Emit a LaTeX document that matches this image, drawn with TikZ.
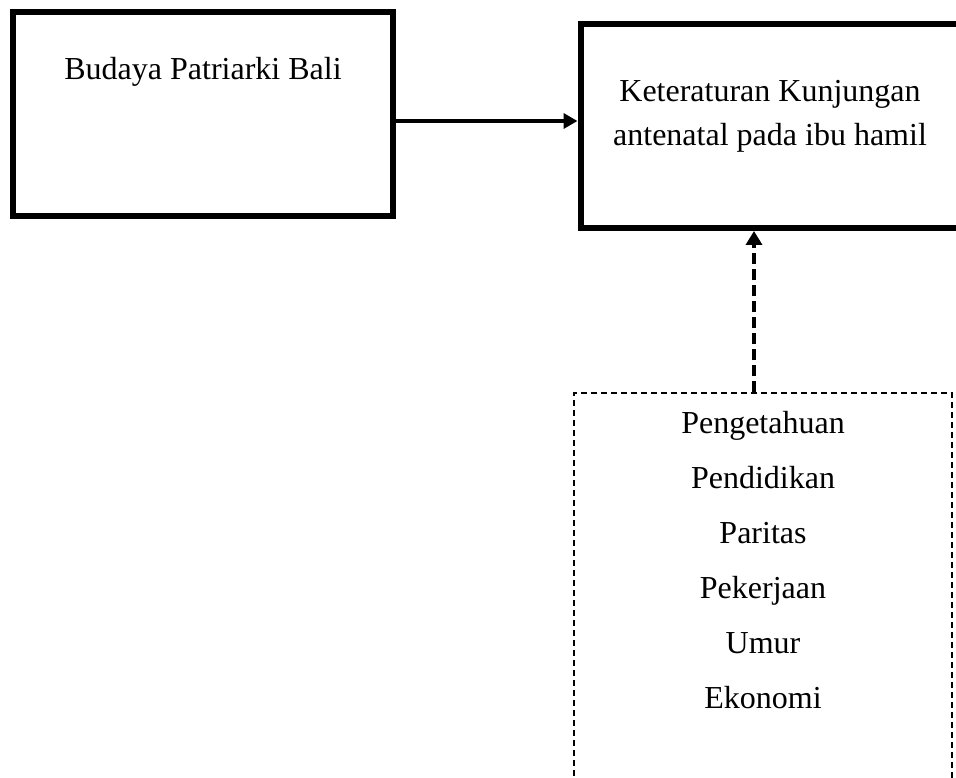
\documentclass[tikz,border=0pt]{standalone}
\usepackage{fontspec}
\setmainfont{Liberation Serif}
\usetikzlibrary{arrows.meta}
\begin{document}
\begin{tikzpicture}[x=1pt,y=-1pt,
  solidbox/.style={draw, line width=6pt, rectangle, inner sep=0pt},
  dashbox/.style={draw, line width=1.5pt, dash pattern=on 6pt off 4pt, rectangle, inner sep=0pt},
  lbl/.style={font=\fontsize{32}{44}\selectfont, align=center, inner sep=0pt},
  arr/.style={line width=3.5pt, -{Triangle[length=14pt,width=15pt]}},
  darr/.style={line width=4pt, dash pattern=on 11pt off 5pt, -{Triangle[length=14pt,width=16pt]}}]
\useasboundingbox (0,0) rectangle (956,778);
\clip (0,0) rectangle (956,778);
\node[solidbox, minimum width=380pt, minimum height=204pt] (bal) at (203,114) {};
\node[solidbox, minimum width=379pt, minimum height=204pt] (ket) at (770,126) {};
\node[dashbox, minimum width=378pt, minimum height=407pt] (fak) at (763,596.5) {};
\node[lbl, anchor=base] (tbal) at (203,80) {Budaya Patriarki Bali};
\node[lbl, anchor=base] (tket) at (770,146) {Keteraturan Kunjungan\\antenatal pada ibu hamil};
\node[lbl, font=\fontsize{32}{55}\selectfont, anchor=base] (tfak) at (763,708) {Pengetahuan\\Pendidikan\\Paritas\\Pekerjaan\\Umur\\Ekonomi};
\draw[arr] (bal.east |- 0,121) -- (ket.west |- 0,121);
\draw[darr] (fak.north -| 754,0) -- (ket.south -| 754,0);
\end{tikzpicture}
\end{document}
